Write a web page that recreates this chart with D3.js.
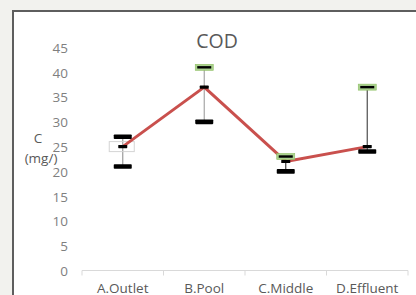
<!DOCTYPE html>
<html>
<head>
<meta charset="utf-8">
<script src="https://cdn.jsdelivr.net/npm/d3@7"></script>
<style>
  html, body { margin: 0; padding: 0; background: #f2f2ee; }
  svg { display: block; }
  text { font-family: "Open Sans", "Liberation Sans", sans-serif; }
</style>
</head>
<body>
<script>
const categories = ["A.Outlet", "B.Pool", "C.Middle", "D.Effluent"];
const means = [25, 37, 22, 25];
const upper = [27, 41, 23, 37];
const lower = [21, 30, 20, 24];
const yTicks = [0, 5, 10, 15, 20, 25, 30, 35, 40, 45];
const highlightedUpper = [false, true, true, true];
const whiskerColors = ["#9a9a9a", "#a6a6a6", "#404040", "#4d4d4d"];
const title = "COD";
const yTitle = ["C", "(mg/)"];

const W = 416, H = 295;
const svg = d3.select("body").append("svg").attr("width", W).attr("height", H);

// chart panel
svg.append("rect").attr("x", 13).attr("y", 11).attr("width", 420).attr("height", 300)
  .attr("fill", "#ffffff").attr("stroke", "#5e5e5e").attr("stroke-width", 2);

const x = d3.scaleBand().domain(categories).range([82, 408]);
const y = d3.scaleLinear().domain([0, 45]).range([270.5, 47.5]);

// x axis
const xAxis = d3.axisBottom(x).tickSize(0).tickPadding(0).tickFormat("");
const gx = svg.append("g").attr("transform", `translate(0,${y(0)})`).call(xAxis);
gx.select(".domain").attr("stroke", "#d9d9d9").attr("stroke-width", 1).attr("d", `M${x.range()[0]},0H${x.range()[1]}`);
const bounds = categories.map(c => x(c)).concat([x.range()[1]]);
gx.selectAll("line.sep").data(bounds).join("line").attr("class", "sep")
  .attr("x1", d => d).attr("x2", d => d).attr("y1", 0).attr("y2", 5)
  .attr("stroke", "#d9d9d9");
gx.selectAll("text.cat").data(categories).join("text").attr("class", "cat")
  .attr("x", d => x(d) + x.bandwidth() / 2).attr("y", 22)
  .attr("text-anchor", "middle").attr("fill", "#595959").attr("font-size", 13.5)
  .text(d => d);

// y axis (labels only)
const yAxis = d3.axisLeft(y).tickValues(yTicks).tickSize(0).tickPadding(0);
const gy = svg.append("g").attr("transform", "translate(68,0)").call(yAxis);
gy.select(".domain").remove();
gy.selectAll("text").attr("fill", "#7f7f7f").attr("font-size", 13.5)
  .style("font-family", "'Open Sans', 'Liberation Sans', sans-serif").attr("dy", "0.36em");

// title
svg.append("text").attr("x", 217).attr("y", 48).attr("text-anchor", "middle")
  .attr("fill", "#595959").attr("font-size", 19.5).text(title);

// y title
svg.selectAll("text.ytitle").data(yTitle).join("text").attr("class", "ytitle")
  .attr("x", (d, i) => i === 0 ? 38 : 41).attr("y", (d, i) => 143 + i * 20)
  .attr("text-anchor", "middle").attr("fill", "#595959").attr("font-size", 13.5)
  .text(d => d);

const cx = i => x(categories[i]) + x.bandwidth() / 2;
const idx = d3.range(categories.length);

// whiskers
svg.selectAll("line.whisker").data(idx).join("line").attr("class", "whisker")
  .attr("x1", cx).attr("x2", cx).attr("y1", i => y(upper[i])).attr("y2", i => y(lower[i]))
  .attr("stroke", i => whiskerColors[i]).attr("stroke-width", 1.2);

// selection box around A mean
svg.append("rect").attr("x", cx(0) - 13.5).attr("y", y(means[0]) - 5).attr("width", 25).attr("height", 10)
  .attr("fill", "none").attr("stroke", "#d4d4d4").attr("stroke-width", 1);

// mean line
const line = d3.line().x(i => cx(i)).y(i => y(means[i]));
svg.append("path").datum(idx).attr("d", line).attr("fill", "none")
  .attr("stroke", "#c9504d").attr("stroke-width", 3).attr("stroke-linejoin", "round");

// lower caps
svg.selectAll("rect.lcap").data(idx).join("rect").attr("class", "lcap")
  .attr("x", i => cx(i) - 9).attr("y", i => y(lower[i]) - 2.3).attr("width", 18).attr("height", 4.6)
  .attr("rx", 0.8).attr("fill", "#000");

// upper caps
idx.forEach(i => {
  if (highlightedUpper[i]) {
    svg.append("rect").attr("x", cx(i) - 9).attr("y", y(upper[i]) - 3).attr("width", 18).attr("height", 6)
      .attr("fill", "#a9d18e").attr("stroke", "#8fbf63").attr("stroke-width", 0.6);
    svg.append("rect").attr("x", cx(i) - 7).attr("y", y(upper[i]) - 1.2).attr("width", 14).attr("height", 2.4)
      .attr("fill", "#000");
  } else {
    svg.append("rect").attr("x", cx(i) - 9).attr("y", y(upper[i]) - 2.3).attr("width", 18).attr("height", 4.6)
      .attr("rx", 0.8).attr("fill", "#000");
  }
});

// mean markers
svg.selectAll("rect.mean").data(idx).join("rect").attr("class", "mean")
  .attr("x", i => cx(i) - 4.5).attr("y", i => y(means[i]) - 1.6).attr("width", 9).attr("height", 3.2)
  .attr("rx", 0.6).attr("fill", "#000");
</script>
</body>
</html>
